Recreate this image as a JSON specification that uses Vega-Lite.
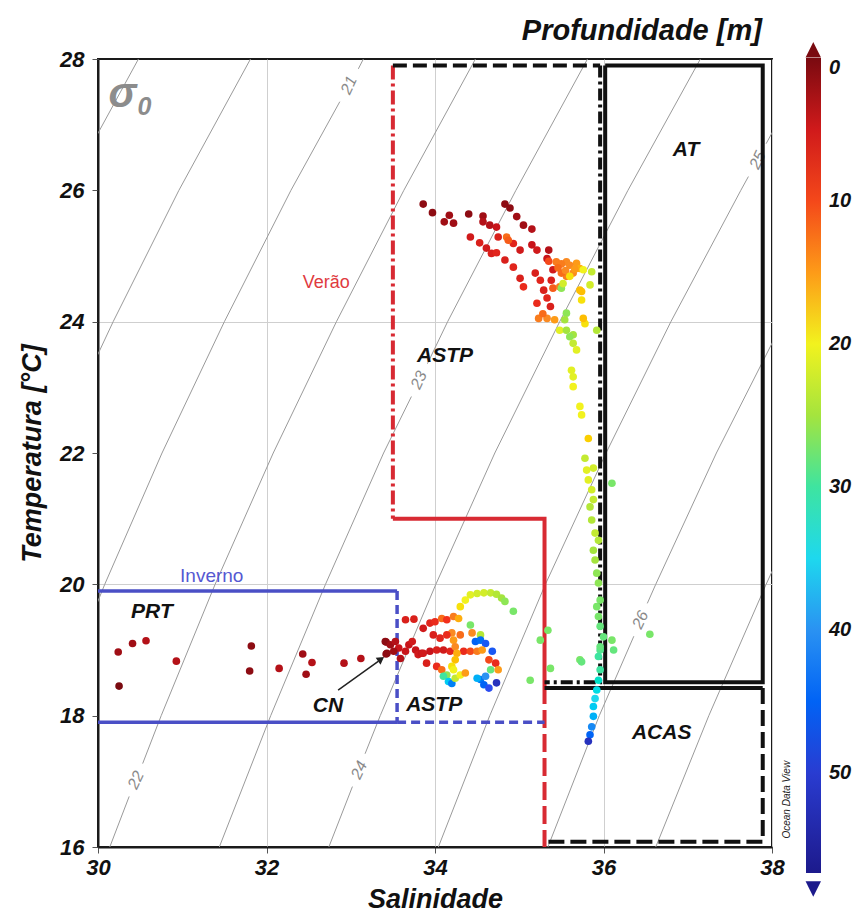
{
  "$schema": "https://vega.github.io/schema/vega-lite/v6.json",
  "autosize": {"type": "none"},
  "padding": {"left": 98, "top": 59, "right": 81, "bottom": 68},
  "width": 674,
  "height": 788,
  "background": "white",
  "config": {
    "font": "Liberation Sans",
    "view": {"stroke": "#1a1a1a", "strokeWidth": 2},
    "axis": {"labelFont": "Liberation Sans", "labelFontSize": 22, "labelFontStyle": "italic", "labelFontWeight": "bold", "labelColor": "#111111", "titleFont": "Liberation Sans", "titleFontSize": 27, "titleFontStyle": "italic", "titleFontWeight": "bold", "titleColor": "#111111", "domainColor": "#1a1a1a", "domainWidth": 2, "tickColor": "#555555", "tickSize": 6, "gridColor": "#cfcfcf", "gridWidth": 1}
  },
  "datasets": {
    "iso": [
      {"g": "19", "o": 1, "S": 29.63, "T": 26}, {"g": "19", "o": 2, "S": 30.48, "T": 28},
      {"g": "20", "o": 1, "S": 29.45, "T": 22}, {"g": "20", "o": 2, "S": 30.18, "T": 24}, {"g": "20", "o": 3, "S": 30.96, "T": 26}, {"g": "20", "o": 4, "S": 31.81, "T": 28},
      {"g": "21a", "o": 1, "S": 29.45, "T": 18}, {"g": "21a", "o": 2, "S": 30.08, "T": 20}, {"g": "21a", "o": 3, "S": 30.76, "T": 22}, {"g": "21a", "o": 4, "S": 31.5, "T": 24}, {"g": "21a", "o": 5, "S": 32.29, "T": 26}, {"g": "21a", "o": 6, "S": 32.87, "T": 27.35},
      {"g": "21b", "o": 1, "S": 33.09, "T": 27.85}, {"g": "21b", "o": 2, "S": 33.15, "T": 28},
      {"g": "22a", "o": 1, "S": 30.14, "T": 16}, {"g": "22a", "o": 2, "S": 30.37, "T": 16.77},
      {"g": "22b", "o": 1, "S": 30.53, "T": 17.27}, {"g": "22b", "o": 2, "S": 30.75, "T": 18}, {"g": "22b", "o": 3, "S": 31.39, "T": 20}, {"g": "22b", "o": 4, "S": 32.08, "T": 22}, {"g": "22b", "o": 5, "S": 32.83, "T": 24}, {"g": "22b", "o": 6, "S": 33.63, "T": 26}, {"g": "22b", "o": 7, "S": 34.48, "T": 28},
      {"g": "23a", "o": 1, "S": 31.44, "T": 16}, {"g": "23a", "o": 2, "S": 32.05, "T": 18}, {"g": "23a", "o": 3, "S": 32.7, "T": 20}, {"g": "23a", "o": 4, "S": 33.39, "T": 22}, {"g": "23a", "o": 5, "S": 33.72, "T": 22.86},
      {"g": "23b", "o": 1, "S": 33.91, "T": 23.36}, {"g": "23b", "o": 2, "S": 34.15, "T": 24}, {"g": "23b", "o": 3, "S": 34.96, "T": 26}, {"g": "23b", "o": 4, "S": 35.81, "T": 28},
      {"g": "24a", "o": 1, "S": 32.74, "T": 16}, {"g": "24a", "o": 2, "S": 33.02, "T": 16.92},
      {"g": "24b", "o": 1, "S": 33.17, "T": 17.42}, {"g": "24b", "o": 2, "S": 33.35, "T": 18}, {"g": "24b", "o": 3, "S": 34.01, "T": 20}, {"g": "24b", "o": 4, "S": 34.71, "T": 22}, {"g": "24b", "o": 5, "S": 35.48, "T": 24}, {"g": "24b", "o": 6, "S": 36.29, "T": 26}, {"g": "24b", "o": 7, "S": 37.15, "T": 28},
      {"g": "25a", "o": 1, "S": 34.04, "T": 16}, {"g": "25a", "o": 2, "S": 34.65, "T": 18}, {"g": "25a", "o": 3, "S": 35.31, "T": 20}, {"g": "25a", "o": 4, "S": 36.03, "T": 22}, {"g": "25a", "o": 5, "S": 36.8, "T": 24}, {"g": "25a", "o": 6, "S": 37.63, "T": 26}, {"g": "25a", "o": 7, "S": 37.72, "T": 26.21},
      {"g": "25b", "o": 1, "S": 37.93, "T": 26.71}, {"g": "25b", "o": 2, "S": 38.48, "T": 28},
      {"g": "26a", "o": 1, "S": 35.34, "T": 16}, {"g": "26a", "o": 2, "S": 35.95, "T": 18}, {"g": "26a", "o": 3, "S": 36.36, "T": 19.21},
      {"g": "26b", "o": 1, "S": 36.52, "T": 19.71}, {"g": "26b", "o": 2, "S": 36.62, "T": 20}, {"g": "26b", "o": 3, "S": 37.34, "T": 22}, {"g": "26b", "o": 4, "S": 38.13, "T": 24},
      {"g": "27", "o": 1, "S": 36.62, "T": 16}, {"g": "27", "o": 2, "S": 37.25, "T": 18}, {"g": "27", "o": 3, "S": 37.93, "T": 20}, {"g": "27", "o": 4, "S": 38.65, "T": 22}
    ],
    "isolabels": [
      {"label": "21", "S": 32.98, "T": 27.6},
      {"label": "22", "S": 30.45, "T": 17.02},
      {"label": "23", "S": 33.81, "T": 23.11},
      {"label": "24", "S": 33.1, "T": 17.17},
      {"label": "25", "S": 37.83, "T": 26.46},
      {"label": "26", "S": 36.44, "T": 19.46}
    ],
    "zones": [
      {"g": "verao", "o": 1, "S": 33.5, "T": 27.9}, {"g": "verao", "o": 2, "S": 33.5, "T": 21.0},
      {"g": "astp_s", "o": 1, "S": 33.5, "T": 21.0}, {"g": "astp_s", "o": 2, "S": 35.3, "T": 21.0}, {"g": "astp_s", "o": 3, "S": 35.3, "T": 18.45},
      {"g": "astp_d", "o": 1, "S": 35.3, "T": 18.45}, {"g": "astp_d", "o": 2, "S": 35.3, "T": 16.0},
      {"g": "inv_top", "o": 1, "S": 30.0, "T": 19.9}, {"g": "inv_top", "o": 2, "S": 33.55, "T": 19.9},
      {"g": "inv_bot", "o": 1, "S": 30.0, "T": 17.9}, {"g": "inv_bot", "o": 2, "S": 33.55, "T": 17.9},
      {"g": "inv_v", "o": 1, "S": 33.55, "T": 19.9}, {"g": "inv_v", "o": 2, "S": 33.55, "T": 17.9},
      {"g": "inv_h", "o": 1, "S": 33.55, "T": 17.9}, {"g": "inv_h", "o": 2, "S": 35.3, "T": 17.9},
      {"g": "top_k", "o": 1, "S": 33.5, "T": 27.9}, {"g": "top_k", "o": 2, "S": 35.96, "T": 27.9},
      {"g": "at_dd", "o": 1, "S": 35.96, "T": 27.9}, {"g": "at_dd", "o": 2, "S": 35.96, "T": 18.51}, {"g": "at_dd", "o": 3, "S": 35.3, "T": 18.51},
      {"g": "at", "o": 1, "S": 36.02, "T": 27.9}, {"g": "at", "o": 2, "S": 37.89, "T": 27.9}, {"g": "at", "o": 3, "S": 37.89, "T": 18.51}, {"g": "at", "o": 4, "S": 36.02, "T": 18.51}, {"g": "at", "o": 5, "S": 36.02, "T": 27.9},
      {"g": "acas_s", "o": 1, "S": 35.3, "T": 18.42}, {"g": "acas_s", "o": 2, "S": 37.89, "T": 18.42},
      {"g": "acas_d", "o": 1, "S": 37.89, "T": 18.42}, {"g": "acas_d", "o": 2, "S": 37.89, "T": 16.08}, {"g": "acas_d", "o": 3, "S": 35.3, "T": 16.08}
    ],
    "notes": [
      {"label": "AT", "S": 36.98, "T": 26.61},
      {"label": "ASTP", "S": 34.12, "T": 23.48},
      {"label": "PRT", "S": 30.64, "T": 19.58},
      {"label": "CN", "S": 32.73, "T": 18.15},
      {"label": "ASTP", "S": 33.99, "T": 18.16},
      {"label": "ACAS", "S": 36.69, "T": 17.74}
    ],
    "seasons": [
      {"label": "Verão", "S": 32.71, "T": 24.59},
      {"label": "Inverno", "S": 31.35, "T": 20.13}
    ],
    "ctitle": [{"label": "Profundidade [m]", "S": 37.88, "T": 28.29}],
    "arrow": [{"S": 32.85, "T": 18.39, "S2": 33.33, "T2": 18.83}],
    "arrowhead": [{"S": 33.36, "T": 18.86}],
    "sigma": [{"label": "σ", "S": 30.29, "T": 27.47}],
    "sigmasub": [{"label": "0", "S": 30.55, "T": 27.27}],
    "odv": [{"label": "Ocean Data View", "S": 38.18, "T": 16.72}],
    "cbtop": [{"S": 38.49, "T": 28.14}],
    "cbbot": [{"S": 38.49, "T": 15.36}],
    "pts": [
      {"S": 30.24, "T": 18.97, "d": 2}, {"S": 30.41, "T": 19.10, "d": 2}, {"S": 30.57, "T": 19.14, "d": 3}, {"S": 30.25, "T": 18.45, "d": 0}, {"S": 30.93, "T": 18.83, "d": 3},
      {"S": 31.82, "T": 19.06, "d": 1}, {"S": 31.80, "T": 18.68, "d": 1}, {"S": 32.15, "T": 18.72, "d": 3}, {"S": 32.43, "T": 18.94, "d": 2}, {"S": 32.54, "T": 18.81, "d": 3},
      {"S": 32.47, "T": 18.63, "d": 2}, {"S": 32.92, "T": 18.80, "d": 3}, {"S": 33.12, "T": 18.87, "d": 3}, {"S": 33.42, "T": 19.12, "d": 2}, {"S": 33.42, "T": 18.94, "d": 1},
      {"S": 33.41, "T": 19.13, "d": 1}, {"S": 33.47, "T": 19.08, "d": 2}, {"S": 33.53, "T": 19.13, "d": 3}, {"S": 33.57, "T": 19.03, "d": 4}, {"S": 33.43, "T": 18.95, "d": 1},
      {"S": 33.51, "T": 18.98, "d": 2}, {"S": 33.59, "T": 18.87, "d": 3}, {"S": 33.65, "T": 18.98, "d": 4}, {"S": 33.69, "T": 19.08, "d": 4}, {"S": 33.73, "T": 19.13, "d": 5},
      {"S": 33.77, "T": 19.00, "d": 4}, {"S": 33.80, "T": 18.93, "d": 5}, {"S": 33.84, "T": 18.95, "d": 4},
      {"S": 33.65, "T": 19.46, "d": 6}, {"S": 33.75, "T": 19.47, "d": 6}, {"S": 33.86, "T": 19.33, "d": 5}, {"S": 33.94, "T": 19.41, "d": 7}, {"S": 34.00, "T": 19.43, "d": 8},
      {"S": 34.08, "T": 19.48, "d": 12}, {"S": 34.14, "T": 19.46, "d": 9}, {"S": 34.22, "T": 19.51, "d": 13}, {"S": 34.28, "T": 19.48, "d": 16}, {"S": 34.30, "T": 19.66, "d": 19},
      {"S": 34.36, "T": 19.76, "d": 20}, {"S": 34.42, "T": 19.84, "d": 21}, {"S": 34.50, "T": 19.86, "d": 22}, {"S": 34.58, "T": 19.87, "d": 22}, {"S": 34.66, "T": 19.87, "d": 23},
      {"S": 34.73, "T": 19.85, "d": 24}, {"S": 34.79, "T": 19.79, "d": 25}, {"S": 34.83, "T": 19.74, "d": 26}, {"S": 34.93, "T": 19.59, "d": 27},
      {"S": 33.86, "T": 18.95, "d": 5}, {"S": 33.94, "T": 18.98, "d": 4}, {"S": 34.02, "T": 19.00, "d": 6}, {"S": 34.10, "T": 19.00, "d": 5}, {"S": 34.18, "T": 18.98, "d": 7},
      {"S": 34.34, "T": 18.98, "d": 8}, {"S": 34.42, "T": 18.98, "d": 10}, {"S": 34.50, "T": 18.98, "d": 13},
      {"S": 34.20, "T": 19.26, "d": 14}, {"S": 34.22, "T": 19.15, "d": 15}, {"S": 34.24, "T": 19.05, "d": 14}, {"S": 34.26, "T": 18.95, "d": 16}, {"S": 34.24, "T": 18.85, "d": 17},
      {"S": 34.20, "T": 18.75, "d": 19}, {"S": 34.22, "T": 18.70, "d": 20},
      {"S": 33.98, "T": 19.23, "d": 6}, {"S": 34.06, "T": 19.18, "d": 7}, {"S": 34.14, "T": 19.23, "d": 8}, {"S": 34.30, "T": 19.23, "d": 12}, {"S": 34.42, "T": 19.38, "d": 27},
      {"S": 34.44, "T": 19.26, "d": 14}, {"S": 34.54, "T": 19.23, "d": 24}, {"S": 34.48, "T": 19.13, "d": 45}, {"S": 34.54, "T": 19.15, "d": 44}, {"S": 34.60, "T": 19.10, "d": 46},
      {"S": 34.56, "T": 19.00, "d": 15}, {"S": 34.68, "T": 18.98, "d": 46}, {"S": 34.64, "T": 18.85, "d": 10}, {"S": 34.72, "T": 18.80, "d": 8}, {"S": 34.66, "T": 18.70, "d": 28},
      {"S": 34.75, "T": 18.70, "d": 15}, {"S": 34.54, "T": 18.55, "d": 43}, {"S": 34.58, "T": 18.47, "d": 45}, {"S": 34.64, "T": 18.42, "d": 47}, {"S": 34.73, "T": 18.50, "d": 52},
      {"S": 34.60, "T": 18.60, "d": 40}, {"S": 34.50, "T": 18.57, "d": 38},
      {"S": 33.90, "T": 18.80, "d": 6}, {"S": 34.02, "T": 18.75, "d": 8}, {"S": 34.08, "T": 18.70, "d": 12}, {"S": 34.14, "T": 18.62, "d": 26}, {"S": 34.10, "T": 18.60, "d": 30},
      {"S": 34.16, "T": 18.52, "d": 36}, {"S": 34.20, "T": 18.49, "d": 42}, {"S": 34.24, "T": 18.57, "d": 23}, {"S": 34.30, "T": 18.62, "d": 20}, {"S": 34.36, "T": 18.65, "d": 15},
      {"S": 35.25, "T": 19.15, "d": 27}, {"S": 35.37, "T": 18.72, "d": 27}, {"S": 35.13, "T": 18.54, "d": 27}, {"S": 35.72, "T": 18.85, "d": 27}, {"S": 35.34, "T": 19.30, "d": 27},
      {"S": 36.55, "T": 19.24, "d": 27},
      {"S": 33.86, "T": 25.79, "d": 1}, {"S": 33.97, "T": 25.66, "d": 1}, {"S": 34.11, "T": 25.52, "d": 2}, {"S": 34.17, "T": 25.62, "d": 2}, {"S": 34.22, "T": 25.50, "d": 2},
      {"S": 34.40, "T": 25.64, "d": 1}, {"S": 34.57, "T": 25.61, "d": 2}, {"S": 34.57, "T": 25.52, "d": 3}, {"S": 34.65, "T": 25.47, "d": 3}, {"S": 34.73, "T": 25.44, "d": 4},
      {"S": 34.83, "T": 25.79, "d": 1}, {"S": 34.89, "T": 25.73, "d": 1}, {"S": 34.97, "T": 25.60, "d": 2}, {"S": 35.05, "T": 25.47, "d": 2}, {"S": 35.15, "T": 25.41, "d": 3},
      {"S": 34.42, "T": 25.29, "d": 5}, {"S": 34.53, "T": 25.20, "d": 6}, {"S": 34.61, "T": 25.12, "d": 5}, {"S": 34.67, "T": 25.04, "d": 6}, {"S": 34.73, "T": 25.05, "d": 7},
      {"S": 34.83, "T": 24.94, "d": 6}, {"S": 34.93, "T": 24.83, "d": 7}, {"S": 35.01, "T": 24.66, "d": 6}, {"S": 35.05, "T": 24.53, "d": 8}, {"S": 34.75, "T": 25.29, "d": 6},
      {"S": 34.93, "T": 25.19, "d": 7}, {"S": 35.01, "T": 25.09, "d": 5}, {"S": 35.15, "T": 25.17, "d": 4}, {"S": 35.21, "T": 25.09, "d": 5}, {"S": 35.35, "T": 25.09, "d": 3},
      {"S": 35.19, "T": 24.74, "d": 6}, {"S": 35.25, "T": 24.63, "d": 7}, {"S": 35.29, "T": 24.48, "d": 6}, {"S": 35.33, "T": 24.36, "d": 7}, {"S": 35.21, "T": 24.28, "d": 8},
      {"S": 35.37, "T": 24.23, "d": 6}, {"S": 35.40, "T": 24.79, "d": 5}, {"S": 35.38, "T": 24.63, "d": 6}, {"S": 35.33, "T": 24.96, "d": 4},
      {"S": 34.85, "T": 25.29, "d": 12}, {"S": 34.87, "T": 25.24, "d": 11}, {"S": 35.35, "T": 24.92, "d": 10}, {"S": 35.44, "T": 24.91, "d": 13}, {"S": 35.56, "T": 24.91, "d": 14},
      {"S": 35.68, "T": 24.89, "d": 15}, {"S": 35.72, "T": 24.81, "d": 16}, {"S": 35.64, "T": 24.74, "d": 14}, {"S": 35.56, "T": 24.69, "d": 13}, {"S": 35.50, "T": 24.74, "d": 12},
      {"S": 35.40, "T": 24.51, "d": 11}, {"S": 35.48, "T": 24.53, "d": 13}, {"S": 35.23, "T": 24.05, "d": 13}, {"S": 35.33, "T": 24.05, "d": 14}, {"S": 35.42, "T": 24.03, "d": 15},
      {"S": 35.28, "T": 24.12, "d": 12}, {"S": 35.50, "T": 24.88, "d": 13}, {"S": 35.60, "T": 24.86, "d": 14}, {"S": 35.66, "T": 24.80, "d": 15}, {"S": 35.46, "T": 24.82, "d": 12},
      {"S": 35.55, "T": 24.78, "d": 14},
      {"S": 35.50, "T": 24.51, "d": 26}, {"S": 35.52, "T": 24.58, "d": 22}, {"S": 35.60, "T": 24.69, "d": 19}, {"S": 35.76, "T": 24.79, "d": 20}, {"S": 35.86, "T": 24.76, "d": 23},
      {"S": 35.72, "T": 24.48, "d": 17}, {"S": 35.74, "T": 24.33, "d": 19}, {"S": 35.84, "T": 24.56, "d": 22}, {"S": 35.56, "T": 24.13, "d": 26}, {"S": 35.54, "T": 24.03, "d": 25},
      {"S": 35.78, "T": 23.97, "d": 19}, {"S": 35.48, "T": 23.87, "d": 21}, {"S": 35.64, "T": 23.80, "d": 25}, {"S": 35.92, "T": 23.87, "d": 24},
      {"S": 35.74, "T": 24.46, "d": 17}, {"S": 35.76, "T": 24.05, "d": 17}, {"S": 35.56, "T": 23.87, "d": 25}, {"S": 35.60, "T": 23.77, "d": 26}, {"S": 35.64, "T": 23.67, "d": 23},
      {"S": 35.68, "T": 23.57, "d": 21}, {"S": 35.62, "T": 23.26, "d": 21}, {"S": 35.64, "T": 23.16, "d": 21}, {"S": 35.64, "T": 23.01, "d": 20}, {"S": 35.72, "T": 22.71, "d": 20},
      {"S": 35.74, "T": 22.58, "d": 20}, {"S": 35.82, "T": 22.22, "d": 18}, {"S": 35.78, "T": 21.92, "d": 23}, {"S": 35.80, "T": 21.74, "d": 21}, {"S": 35.88, "T": 21.77, "d": 22},
      {"S": 35.82, "T": 21.59, "d": 21}, {"S": 35.86, "T": 21.44, "d": 22}, {"S": 35.88, "T": 21.29, "d": 23}, {"S": 35.84, "T": 21.18, "d": 24}, {"S": 36.10, "T": 21.54, "d": 27},
      {"S": 35.86, "T": 20.98, "d": 24}, {"S": 35.90, "T": 20.78, "d": 23}, {"S": 35.94, "T": 20.67, "d": 24}, {"S": 35.88, "T": 20.52, "d": 25}, {"S": 35.90, "T": 20.37, "d": 25},
      {"S": 35.92, "T": 20.17, "d": 26}, {"S": 35.94, "T": 20.02, "d": 26}, {"S": 35.96, "T": 19.76, "d": 27}, {"S": 35.92, "T": 19.66, "d": 27}, {"S": 35.94, "T": 19.51, "d": 27},
      {"S": 35.96, "T": 19.36, "d": 28}, {"S": 36.00, "T": 19.20, "d": 28}, {"S": 36.10, "T": 19.15, "d": 27}, {"S": 35.96, "T": 19.00, "d": 29}, {"S": 35.94, "T": 18.90, "d": 30},
      {"S": 35.96, "T": 19.05, "d": 28}, {"S": 36.12, "T": 19.00, "d": 28}, {"S": 35.74, "T": 18.82, "d": 28}, {"S": 35.96, "T": 18.70, "d": 30}, {"S": 35.94, "T": 18.54, "d": 32},
      {"S": 35.92, "T": 18.39, "d": 34}, {"S": 35.90, "T": 18.26, "d": 35}, {"S": 35.88, "T": 18.14, "d": 36}, {"S": 35.88, "T": 17.99, "d": 38}, {"S": 35.86, "T": 17.83, "d": 41},
      {"S": 35.84, "T": 17.71, "d": 45}, {"S": 35.82, "T": 17.61, "d": 52}
    ]
  },
  "layer": [
    {
      "data": {"name": "iso"},
      "mark": {"type": "line", "color": "#9a9a9a", "strokeWidth": 1, "clip": true},
      "encoding": {
        "x": {"field": "S", "type": "quantitative", "scale": {"domain": [30, 38], "nice": false, "zero": false},
              "axis": {"values": [30, 32, 34, 36, 38], "format": "d", "title": "Salinidade", "labelFlush": false, "labelPadding": 4, "titleY": 60, "titleBaseline": "alphabetic", "grid": true}},
        "y": {"field": "T", "type": "quantitative", "scale": {"domain": [16, 28], "nice": false, "zero": false},
              "axis": {"values": [16, 18, 20, 22, 24, 26, 28], "format": "d", "title": "Temperatura [°C]", "labelPadding": 8, "titleX": -58, "titleY": 394, "titleBaseline": "alphabetic", "grid": true,
                       "gridOpacity": {"condition": {"test": "datum.value === 20 || datum.value === 24", "value": 1}, "value": 0}}},
        "detail": {"field": "g"},
        "order": {"field": "o", "type": "quantitative"}
      }
    },
    {
      "data": {"name": "isolabels"},
      "mark": {"type": "text", "color": "#8a8a8a", "fontSize": 16, "fontStyle": "italic", "angle": -65, "align": "center", "baseline": "middle"},
      "encoding": {"x": {"field": "S", "type": "quantitative"}, "y": {"field": "T", "type": "quantitative"}, "text": {"field": "label"}}
    },
    {
      "data": {"name": "zones"},
      "transform": [{"filter": {"field": "g", "oneOf": ["verao"]}}],
      "mark": {"type": "line", "color": "#d82a33", "strokeWidth": 4, "strokeDash": [14, 4, 3, 4]},
      "encoding": {"x": {"field": "S", "type": "quantitative"}, "y": {"field": "T", "type": "quantitative"}, "detail": {"field": "g"}, "order": {"field": "o", "type": "quantitative"}}
    },
    {
      "data": {"name": "zones"},
      "transform": [{"filter": {"field": "g", "oneOf": ["astp_s"]}}],
      "mark": {"type": "line", "color": "#d82a33", "strokeWidth": 4},
      "encoding": {"x": {"field": "S", "type": "quantitative"}, "y": {"field": "T", "type": "quantitative"}, "detail": {"field": "g"}, "order": {"field": "o", "type": "quantitative"}}
    },
    {
      "data": {"name": "zones"},
      "transform": [{"filter": {"field": "g", "oneOf": ["astp_d"]}}],
      "mark": {"type": "line", "color": "#d82a33", "strokeWidth": 4, "strokeDash": [18, 6]},
      "encoding": {"x": {"field": "S", "type": "quantitative"}, "y": {"field": "T", "type": "quantitative"}, "detail": {"field": "g"}, "order": {"field": "o", "type": "quantitative"}}
    },
    {
      "data": {"name": "zones"},
      "transform": [{"filter": {"field": "g", "oneOf": ["inv_top", "inv_bot"]}}],
      "mark": {"type": "line", "color": "#4a4fc6", "strokeWidth": 3.5},
      "encoding": {"x": {"field": "S", "type": "quantitative"}, "y": {"field": "T", "type": "quantitative"}, "detail": {"field": "g"}, "order": {"field": "o", "type": "quantitative"}}
    },
    {
      "data": {"name": "zones"},
      "transform": [{"filter": {"field": "g", "oneOf": ["inv_v", "inv_h"]}}],
      "mark": {"type": "line", "color": "#4a4fc6", "strokeWidth": 3.5, "strokeDash": [9, 5]},
      "encoding": {"x": {"field": "S", "type": "quantitative"}, "y": {"field": "T", "type": "quantitative"}, "detail": {"field": "g"}, "order": {"field": "o", "type": "quantitative"}}
    },
    {
      "data": {"name": "zones"},
      "transform": [{"filter": {"field": "g", "oneOf": ["top_k"]}}],
      "mark": {"type": "line", "color": "#111111", "strokeWidth": 4, "strokeDash": [14, 6]},
      "encoding": {"x": {"field": "S", "type": "quantitative"}, "y": {"field": "T", "type": "quantitative"}, "detail": {"field": "g"}, "order": {"field": "o", "type": "quantitative"}}
    },
    {
      "data": {"name": "zones"},
      "transform": [{"filter": {"field": "g", "oneOf": ["at_dd"]}}],
      "mark": {"type": "line", "color": "#111111", "strokeWidth": 4, "strokeDash": [12, 4, 3, 4]},
      "encoding": {"x": {"field": "S", "type": "quantitative"}, "y": {"field": "T", "type": "quantitative"}, "detail": {"field": "g"}, "order": {"field": "o", "type": "quantitative"}}
    },
    {
      "data": {"name": "zones"},
      "transform": [{"filter": {"field": "g", "oneOf": ["at", "acas_s"]}}],
      "mark": {"type": "line", "color": "#111111", "strokeWidth": 4},
      "encoding": {"x": {"field": "S", "type": "quantitative"}, "y": {"field": "T", "type": "quantitative"}, "detail": {"field": "g"}, "order": {"field": "o", "type": "quantitative"}}
    },
    {
      "data": {"name": "zones"},
      "transform": [{"filter": {"field": "g", "oneOf": ["acas_d"]}}],
      "mark": {"type": "line", "color": "#111111", "strokeWidth": 4, "strokeDash": [16, 6]},
      "encoding": {"x": {"field": "S", "type": "quantitative"}, "y": {"field": "T", "type": "quantitative"}, "detail": {"field": "g"}, "order": {"field": "o", "type": "quantitative"}}
    },
    {
      "data": {"name": "pts"},
      "mark": {"type": "circle", "size": 58, "opacity": 1},
      "encoding": {
        "x": {"field": "S", "type": "quantitative"},
        "y": {"field": "T", "type": "quantitative"},
        "color": {"field": "d", "type": "quantitative",
          "scale": {"domain": [57, 47, 40, 35, 30, 25, 20, 14, 9, 4, 0],
                    "range": ["#1c1a8c", "#2a4cf0", "#2a92f2", "#1ed8ee", "#3ee4a0", "#a4e43e", "#f2f21e", "#fa8a22", "#f2301c", "#c8141a", "#7a0a10"]},
          "legend": {"orient": "none", "legendX": 708, "legendY": -1, "direction": "vertical", "gradientLength": 815, "gradientThickness": 15, "gradientStrokeWidth": 0, "title": null,
                     "values": [0, 10, 20, 30, 40, 50], "labelFontSize": 20, "labelFontStyle": "italic", "labelFontWeight": "bold", "labelColor": "#111111", "labelOffset": 8, "labelOverlap": false, "padding": 0}
        }
      }
    },
    {
      "data": {"name": "notes"},
      "mark": {"type": "text", "color": "#111111", "fontSize": 21, "fontStyle": "italic", "fontWeight": "bold", "align": "center", "baseline": "middle"},
      "encoding": {"x": {"field": "S", "type": "quantitative"}, "y": {"field": "T", "type": "quantitative"}, "text": {"field": "label"}}
    },
    {
      "data": {"name": "seasons"},
      "transform": [{"filter": "datum.label === 'Verão'"}],
      "mark": {"type": "text", "color": "#e03a40", "fontSize": 18, "align": "center", "baseline": "middle"},
      "encoding": {"x": {"field": "S", "type": "quantitative"}, "y": {"field": "T", "type": "quantitative"}, "text": {"field": "label"}}
    },
    {
      "data": {"name": "seasons"},
      "transform": [{"filter": "datum.label === 'Inverno'"}],
      "mark": {"type": "text", "color": "#5558d2", "fontSize": 19, "align": "center", "baseline": "middle"},
      "encoding": {"x": {"field": "S", "type": "quantitative"}, "y": {"field": "T", "type": "quantitative"}, "text": {"field": "label"}}
    },
    {
      "data": {"name": "ctitle"},
      "mark": {"type": "text", "color": "#111111", "fontSize": 29, "fontStyle": "italic", "fontWeight": "bold", "align": "right", "baseline": "alphabetic", "clip": false},
      "encoding": {"x": {"field": "S", "type": "quantitative"}, "y": {"field": "T", "type": "quantitative"}, "text": {"field": "label"}}
    },
    {
      "data": {"name": "arrow"},
      "mark": {"type": "rule", "color": "#222222", "strokeWidth": 1.5},
      "encoding": {"x": {"field": "S", "type": "quantitative"}, "y": {"field": "T", "type": "quantitative"}, "x2": {"field": "S2"}, "y2": {"field": "T2"}}
    },
    {
      "data": {"name": "arrowhead"},
      "mark": {"type": "point", "shape": "triangle-up", "filled": true, "color": "#222222", "size": 70, "angle": 55, "opacity": 1},
      "encoding": {"x": {"field": "S", "type": "quantitative"}, "y": {"field": "T", "type": "quantitative"}}
    },
    {
      "data": {"name": "sigma"},
      "mark": {"type": "text", "color": "#8c8c8c", "fontSize": 42, "fontStyle": "italic", "fontWeight": "bold", "align": "center", "baseline": "middle"},
      "encoding": {"x": {"field": "S", "type": "quantitative"}, "y": {"field": "T", "type": "quantitative"}, "text": {"field": "label"}}
    },
    {
      "data": {"name": "sigmasub"},
      "mark": {"type": "text", "color": "#8c8c8c", "fontSize": 25, "fontStyle": "italic", "fontWeight": "bold", "align": "center", "baseline": "middle"},
      "encoding": {"x": {"field": "S", "type": "quantitative"}, "y": {"field": "T", "type": "quantitative"}, "text": {"field": "label"}}
    },
    {
      "data": {"name": "odv"},
      "mark": {"type": "text", "color": "#222222", "fontSize": 10, "fontStyle": "italic", "angle": 270, "align": "center", "baseline": "middle", "clip": false},
      "encoding": {"x": {"field": "S", "type": "quantitative"}, "y": {"field": "T", "type": "quantitative"}, "text": {"field": "label"}}
    },
    {
      "data": {"name": "cbtop"},
      "mark": {"type": "point", "shape": "M-1,1L0,-1L1,1Z", "filled": true, "color": "#7a0a10", "size": 240, "opacity": 1, "clip": false},
      "encoding": {"x": {"field": "S", "type": "quantitative"}, "y": {"field": "T", "type": "quantitative"}}
    },
    {
      "data": {"name": "cbbot"},
      "mark": {"type": "point", "shape": "M-1,-1L0,1L1,-1Z", "filled": true, "color": "#1c1a8c", "size": 240, "opacity": 1, "clip": false},
      "encoding": {"x": {"field": "S", "type": "quantitative"}, "y": {"field": "T", "type": "quantitative"}}
    }
  ]
}
